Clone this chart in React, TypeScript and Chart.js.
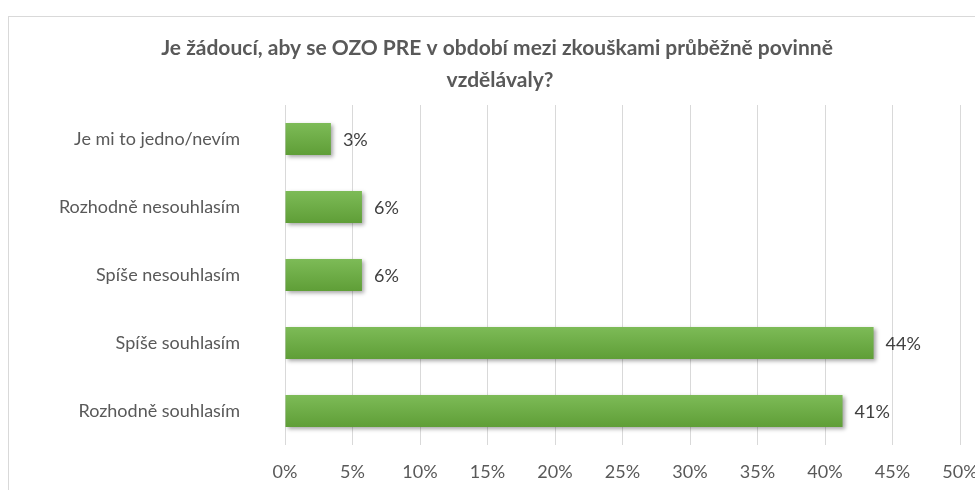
import React, { useEffect, useRef } from "react";
import { Chart, registerables } from "chart.js";

Chart.register(...registerables);

const titleLines = [
  "Je žádoucí, aby se OZO PRE v období mezi zkouškami průběžně povinně",
  "vzdělávaly?",
];
const categories = [
  "Je mi to jedno/nevím",
  "Rozhodně nesouhlasím",
  "Spíše nesouhlasím",
  "Spíše souhlasím",
  "Rozhodně souhlasím",
];
const values = [3.4, 5.7, 5.7, 43.6, 41.3];
const valueLabels = ["3%", "6%", "6%", "44%", "41%"];
const xMin = 0;
const xMax = 50;
const xStep = 5;

const FONT = "Lato, 'Open Sans', sans-serif";

const decorPlugin = {
  id: "decor",
  beforeDraw(chart: any) {
    const ctx = chart.ctx;
    ctx.save();
    ctx.fillStyle = "#ffffff";
    ctx.fillRect(0, 0, chart.width, chart.height);
    ctx.strokeStyle = "#d9d9d9";
    ctx.lineWidth = 1;
    ctx.strokeRect(8.5, 16.5, 3000, 3000);
    ctx.fillStyle = "#595959";
    ctx.font = `bold 21px ${FONT}`;
    ctx.textAlign = "center";
    ctx.textBaseline = "middle";
    ctx.fillText(titleLines[0], 497, 48);
    ctx.fillText(titleLines[1], 500, 80);
    ctx.restore();
  },
  beforeDatasetsDraw(chart: any) {
    const ctx = chart.ctx;
    ctx.save();
    ctx.shadowColor = "rgba(0,0,0,0.35)";
    ctx.shadowOffsetX = 2;
    ctx.shadowOffsetY = 2;
    ctx.shadowBlur = 4;
  },
  afterDatasetsDraw(chart: any) {
    const ctx = chart.ctx;
    ctx.restore();
    const meta = chart.getDatasetMeta(0);
    ctx.save();
    ctx.fillStyle = "#404040";
    ctx.font = `18px ${FONT}`;
    ctx.textAlign = "left";
    ctx.textBaseline = "middle";
    meta.data.forEach((el: any, i: number) => {
      ctx.fillText(valueLabels[i], el.x + 12, el.y + 1);
    });
    ctx.restore();
  },
};

export default function App() {
  const ref = useRef<HTMLCanvasElement | null>(null);
  useEffect(() => {
    document.body.style.margin = "0";
    const canvas = ref.current!;
    const chart = new Chart(canvas, {
      type: "bar",
      data: {
        labels: categories,
        datasets: [
          {
            data: values,
            backgroundColor: (context: any) => {
              const c = context.chart;
              const ys = c.scales && c.scales.y;
              if (!ys || context.dataIndex === undefined) return "#70ad47";
              const cy = ys.getPixelForValue(context.dataIndex);
              if (!isFinite(cy)) return "#70ad47";
              const g = c.ctx.createLinearGradient(0, cy - 16, 0, cy + 16);
              g.addColorStop(0, "#7dbb57");
              g.addColorStop(1, "#5f9e37");
              return g;
            },
            borderWidth: 0,
            barPercentage: 0.47,
            categoryPercentage: 1,
          },
        ],
      },
      options: {
        indexAxis: "y",
        animation: false,
        responsive: false,
        maintainAspectRatio: false,
        layout: { padding: { top: 105, right: 15, left: 0, bottom: 0 } },
        plugins: {
          legend: { display: false },
          title: { display: false },
          tooltip: { enabled: false },
        },
        scales: {
          x: {
            min: xMin,
            max: xMax,
            ticks: {
              stepSize: xStep,
              callback: (v: any) => v + "%",
              color: "#595959",
              font: { family: FONT, size: 18 },
              padding: 16,
              maxRotation: 0,
            },
            grid: { color: "#d9d9d9", drawTicks: false, lineWidth: 1 },
            border: { display: false },
            afterFit: (s: any) => {
              s.height = 45;
              s.paddingLeft = 0;
              s.paddingRight = 0;
            },
          },
          y: {
            ticks: {
              color: "#595959",
              font: { family: FONT, size: 18 },
              padding: 37,
            },
            grid: { display: false },
            border: { display: false },
            afterFit: (s: any) => {
              s.width = 285;
              s.paddingTop = 0;
              s.paddingBottom = 0;
            },
          },
        },
      },
      plugins: [decorPlugin],
    } as any);
    return () => chart.destroy();
  }, []);
  return (
    <div style={{ position: "relative", width: 975, height: 490, overflow: "hidden" }}>
      <canvas ref={ref} width={975} height={490} style={{ display: "block" }} />
    </div>
  );
}
